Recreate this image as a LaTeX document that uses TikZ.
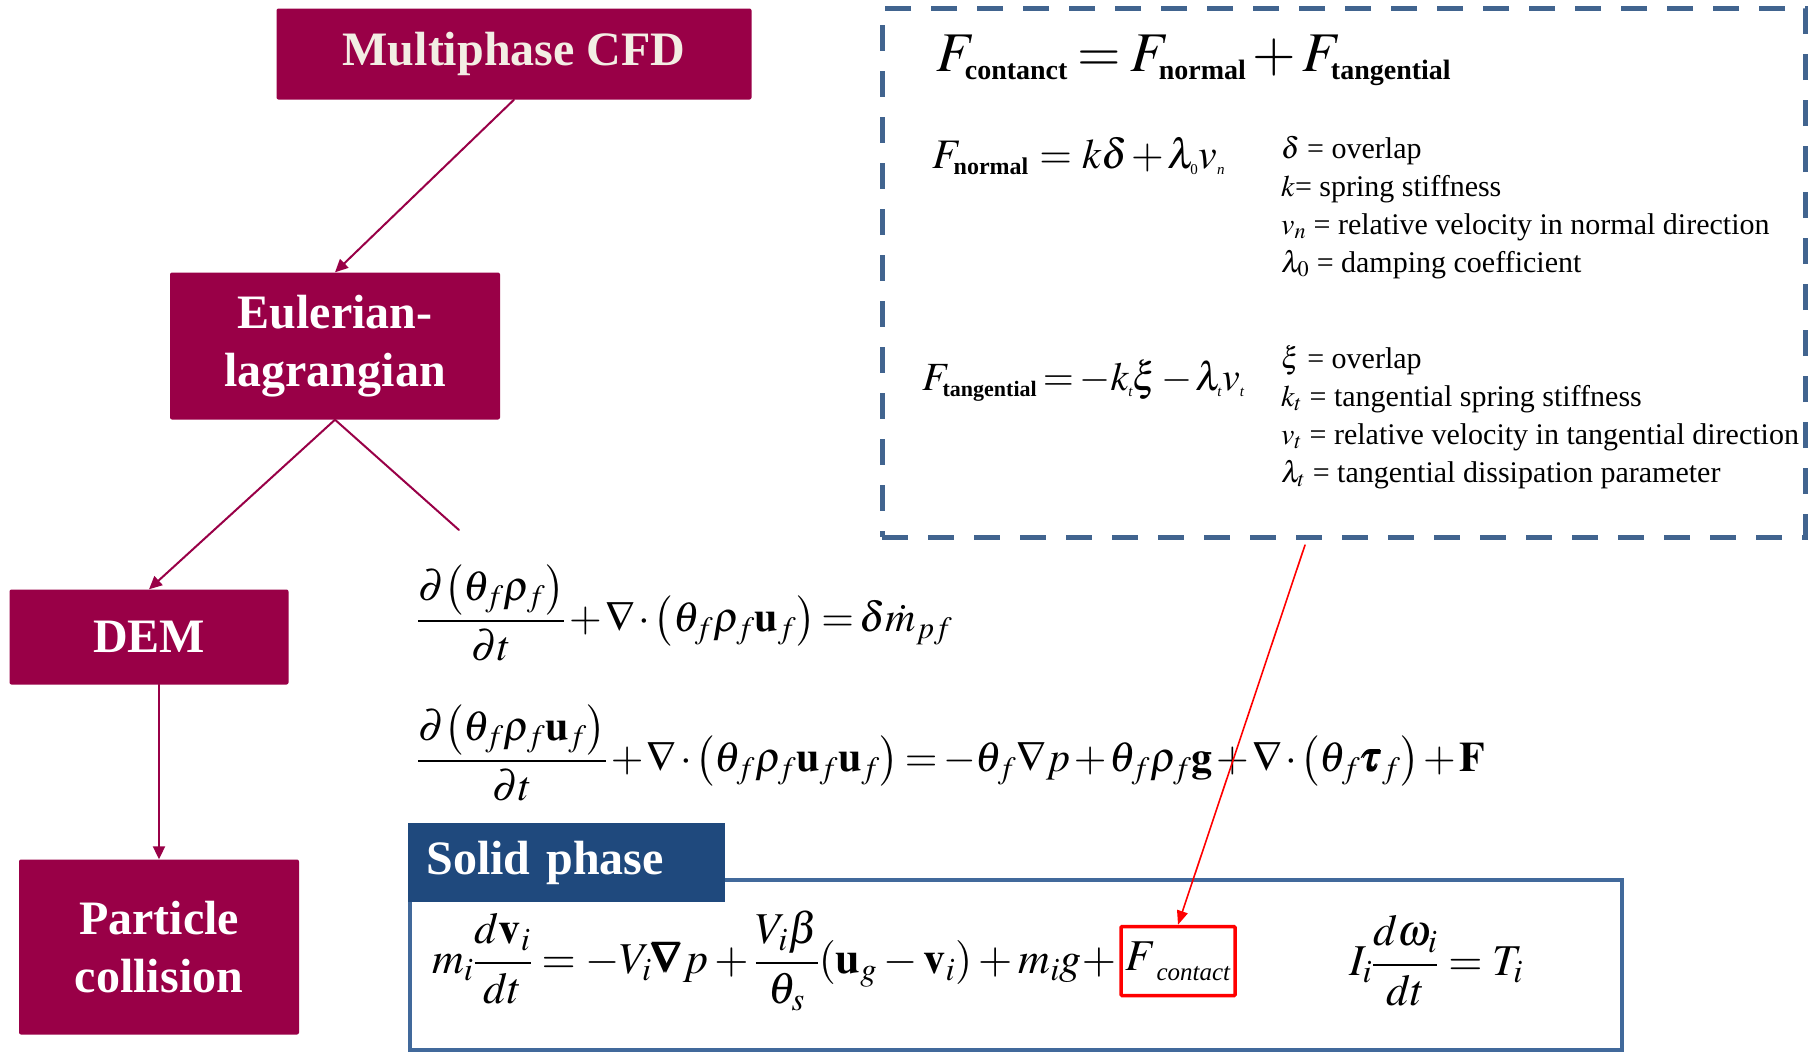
\documentclass[tikz,border=0pt]{standalone}
\usepackage{amsmath}
\usepackage{mathptmx}
\usepackage{fontspec}
\setmainfont{Liberation Serif}
\usetikzlibrary{arrows.meta, positioning, calc}
\definecolor{maroon}{HTML}{990047}
\definecolor{cream}{HTML}{F3EEE4}
\definecolor{dashblue}{HTML}{41648F}
\definecolor{titleblue}{HTML}{1F497D}
\definecolor{frameblue}{HTML}{41699B}
\newcommand{\subtxt}[2]{\hbox{\fontsize{#1}{#1}\selectfont\bfseries #2}}
\newcommand{\tinysub}[1]{\hbox{\fontsize{15}{15}\selectfont #1}}
\newcommand{\tightmath}{\medmuskip=1.5mu\relax\thickmuskip=2.5mu\relax}
\newcommand{\lessmath}{\medmuskip=2mu\relax\thickmuskip=3mu\relax}

\begin{document}
\begin{tikzpicture}[x=1pt, y=-1pt, line cap=round,
    boxsty/.style={fill=maroon, rounded corners=2pt, text=white, align=center,
        font=\fontsize{48}{58}\selectfont\bfseries, inner sep=0pt},
    flow/.style={-{Triangle[length=13pt, width=12pt]}, line width=2pt, maroon},
    eqn/.style={inner sep=0pt, font=\fontsize{42}{50}\selectfont},
    soleq/.style={inner sep=0pt, font=\fontsize{44}{52}\selectfont},
    legend/.style={inner sep=0pt, anchor=base west, font=\fontsize{30}{38}\selectfont},
    redflow/.style={-{Triangle[length=14pt, width=11pt]}, line width=1.6pt, red}
]

% ---------------- canvas, white ----------------
\fill[white] (0,0) rectangle (1808,1053);
\useasboundingbox (0,0) rectangle (1808,1053);

% ================= model hierarchy (left) =================
\node[boxsty, text=cream, minimum width=475pt, minimum height=91pt] (cfd) at (514,54) {Multiphase CFD};
\node[boxsty, minimum width=330pt, minimum height=147pt] (euler) at (335,346) {Eulerian-\\lagrangian};
\node[boxsty, minimum width=279pt, minimum height=95pt] (dem) at (149,637) {DEM};
\node[boxsty, minimum width=280pt, minimum height=175pt] (part) at (159,947) {Particle\\collision};

\draw[flow] (cfd.south) -- (euler.north);
\draw[flow] (euler.south) -- (dem.north);
\draw[flow] (dem.south -| part.north) -- (part.north);
% branch towards the fluid equations, no tip
\coordinate (fluid) at (459,530);
\draw[maroon, line width=2pt] (euler.south) -- (fluid);

% ================= contact force box (dashed) =================
\node[draw=dashblue, line width=5pt, line cap=butt, dash pattern=on 26pt off 20pt,
    minimum width=923pt, minimum height=529pt, inner sep=0pt] (forces) at (1343.5,272.5) {};

\node[anchor=base west, inner sep=0pt, font=\fontsize{56}{60}\selectfont] (fsum) at (936,71)
    {$\lessmath F_{\subtxt{28}{contanct}} = F_{\subtxt{28}{normal}} + F_{\subtxt{28}{tangential}}$};

\node[anchor=base west, inner sep=0pt, font=\fontsize{42}{48}\selectfont] (fnorm) at (932,168)
    {$\tightmath F_{\subtxt{24}{normal}}\, = \,k\delta+\lambda_{\tinysub{0}}v_{\tinysub{\itshape n}}$};
\foreach \txt [count=\n] in {{$\delta$ = overlap}, {$k$= spring stiffness},
        {$v_n$ = relative velocity in normal direction}, {$\lambda_0$ = damping coefficient}}
    \node[legend] (nleg\n) at (1281,{120+38*\n}) {\txt};

\node[anchor=base west, inner sep=0pt, font=\fontsize{40}{46}\selectfont] (ftang) at (922,390)
    {$\tightmath F_{\subtxt{22}{tangential}} = -k_{\tinysub{\itshape t}}\xi-\lambda_{\tinysub{\itshape t}}v_{\tinysub{\itshape t}}$};
\foreach \txt [count=\n] in {{$\xi$ = overlap}, {$k_t$ = tangential spring stiffness},
        {$v_t$ = relative velocity in tangential direction}, {$\lambda_t$ = tangential dissipation parameter}}
    \node[legend] (tleg\n) at (1281,{330+38*\n}) {\txt};

% ================= fluid phase equations =================
\node[eqn, anchor=west] (mass) at (417,613)
    {$\tightmath\dfrac{\partial\bigl(\theta_f\rho_f\bigr)}{\partial t}+\nabla\cdot\bigl(\theta_f\rho_f\mathbf{u}_f\bigr)=\delta\dot{m}_{pf}$};
\node[eqn, anchor=west] (momentum) at (417,753)
    {$\tightmath\dfrac{\partial\bigl(\theta_f\rho_f\mathbf{u}_f\bigr)}{\partial t}+\nabla\cdot\bigl(\theta_f\rho_f\mathbf{u}_f\mathbf{u}_f\bigr)=-\theta_f\nabla p+\theta_f\rho_f\mathbf{g}+\nabla\cdot\bigl(\theta_f\pmb{\tau}_f\bigr)+\mathbf{F}$};

% ================= solid phase =================
\node[draw=frameblue, line width=4pt, minimum width=1212pt, minimum height=170pt, inner sep=0pt] (solidframe) at (1016,965) {};
\node[fill=titleblue, minimum width=317pt, minimum height=79pt, inner sep=0pt, text width=280pt, align=left,
    text=white, font=\fontsize{48}{52}\selectfont\bfseries] (solidtitle) at (566.5,862.5) {Solid phase};

\node[draw=red, line width=3.5pt, rounded corners=1pt, minimum width=114pt, minimum height=69pt, inner sep=0pt,
    font=\fontsize{44}{50}\selectfont] (fcont) at (1178,961) {$F$\raisebox{-10pt}{\fontsize{25}{25}\selectfont\itshape contact}};
\node[soleq, left=3pt of fcont] (newton)
    {$m_i\dfrac{d\mathbf{v}_i}{dt}=-V_i\pmb{\nabla}p+\dfrac{V_i\beta}{\theta_s}(\mathbf{u}_g-\mathbf{v}_i)+m_ig+$};
\node[soleq] (spin) at (1436,961) {$I_i\dfrac{d\omega_i}{dt}=T_i$};

% contact force feeds the particle equation
\coordinate (pull) at (1305,545);
\draw[redflow] (pull) -- (fcont.north);

\end{tikzpicture}
\end{document}
